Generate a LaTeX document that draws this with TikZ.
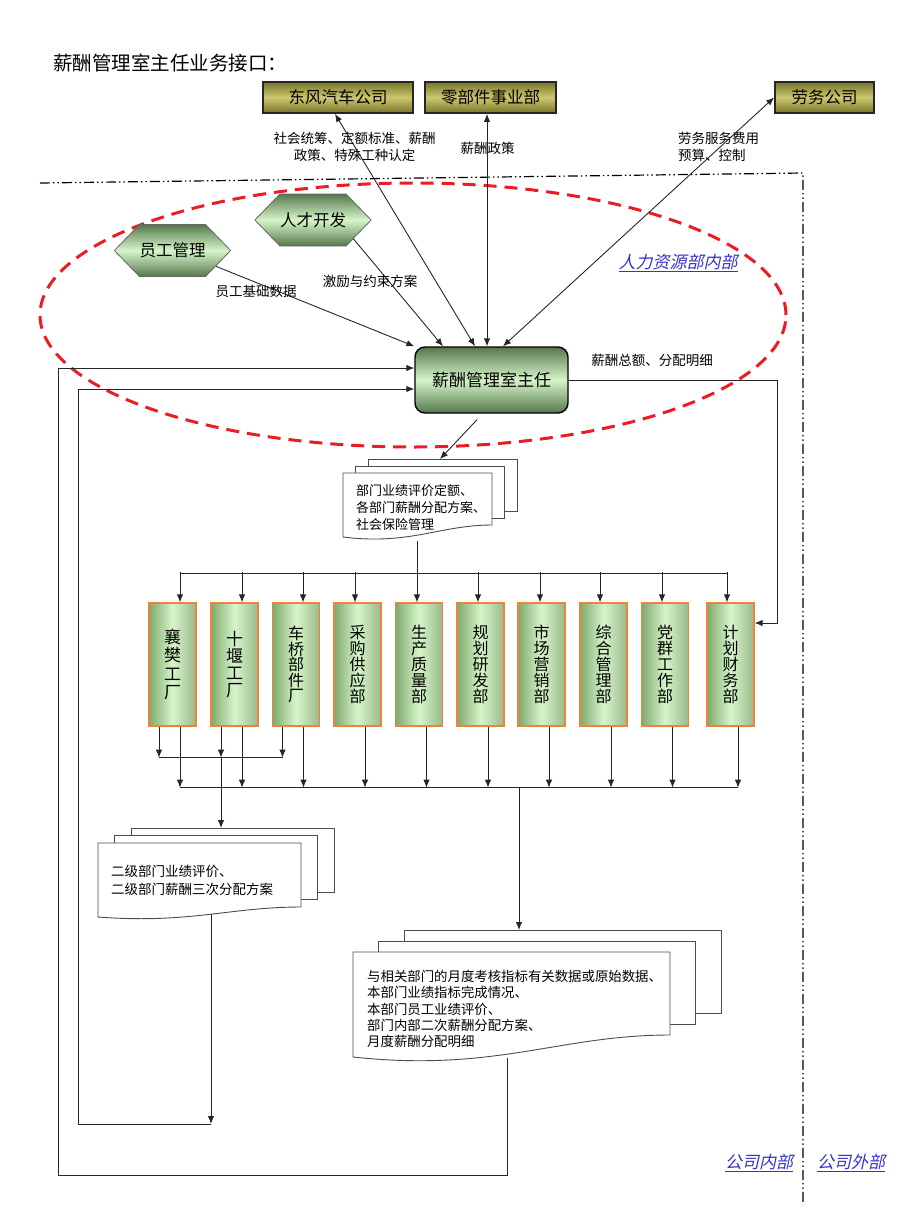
\documentclass[tikz,border=0pt]{standalone}
\usepackage{fontspec}
\setmainfont{Noto Sans CJK SC}
\newfontfamily\slantcjk{Noto Sans CJK SC}[FakeSlant=0.22]
\usetikzlibrary{arrows.meta, shapes.symbols, positioning}

\definecolor{olivedk}{RGB}{118,116,40}
\definecolor{olivelt}{RGB}{206,200,112}
\definecolor{greendk}{RGB}{86,118,76}
\definecolor{greenlt}{RGB}{214,246,202}
\definecolor{colgreen}{RGB}{128,168,110}
\definecolor{colline}{RGB}{238,132,60}
\definecolor{linkblue}{RGB}{52,52,205}
\definecolor{hrred}{RGB}{236,28,36}

\newcommand{\fsz}[2]{\fontsize{#1}{#2}\selectfont}

% three pages, the front one with a wavy foot
\newcommand{\docpile}[7]{%
  \draw[pageline] ({#1+2*#5},{#2-2*#6}) rectangle ++(#3,#4);
  \draw[pageline] ({#1+#5},{#2-#6}) rectangle ++(#3,#4);
  \draw[pageline] (#1,#2) -- ++(#3,0) -- ++(0,#4)
    .. controls ({#1+0.65*#3},{#2+#4}) and ({#1+0.45*#3},{#2+#4+1.7*#7}) .. ({#1},{#2+#4+#7}) -- cycle;
}

\begin{document}
\begin{tikzpicture}[x=1pt, y=-1pt, >={Latex[length=8pt,width=6.5pt]},
  wire/.style={draw=black!85, line width=0.9pt},
  pageline/.style={draw=black!70, fill=white, line width=0.9pt},
  extbox/.style={draw=black!85, line width=1.8pt, top color=olivedk, bottom color=olivedk, middle color=olivelt, minimum height=31, inner sep=0pt, font=\fsz{16.5}{17}},
  hexbox/.style={signal, signal to=east and west, signal pointer angle=92, draw=black!60, line width=0.8pt, top color=greendk, bottom color=greendk, middle color=greenlt, minimum height=52, inner sep=0pt, font=\fsz{16.5}{17}},
  chiefbox/.style={draw=black, line width=1.4pt, rounded corners=10pt, top color=greendk, bottom color=greendk, middle color=greenlt, minimum width=153, minimum height=66, inner sep=0pt, font=\fsz{17}{17}},
  deptbar/.style={draw=colline, line width=1.3pt, left color=colgreen, right color=colgreen!80!white, middle color=greenlt, minimum width=47, minimum height=123, inner sep=0pt, align=center},
  note/.style={font=\fsz{13.5}{16.5}, inner sep=0pt, align=center},
  link/.style={font=\slantcjk\fsz{17}{17}, text=linkblue, inner sep=0pt},
  sideline/.style={line width=1.2pt, dash pattern=on 10pt off 3pt on 1.5pt off 3pt on 1.5pt off 3pt},
  hrring/.style={draw=hrred, line width=3pt, dash pattern=on 13pt off 8pt}]
\useasboundingbox (0,0) rectangle (920,1227);

\node[anchor=west, inner sep=0pt, font=\fsz{19.5}{20}] (title) at (53,63) {薪酬管理室主任业务接口：};

\node[extbox, minimum width=150] (dfqc) at (338,97.5) {东风汽车公司};
\node[extbox, minimum width=131] (lbjb) at (490.5,97.5) {零部件事业部};
\node[extbox, minimum width=99] (lwgs) at (824.5,97.5) {劳务公司};

\draw[sideline] (40,183) -- (803,173) -- (803,1205);
\draw[hrring] (413,315) ellipse [x radius=373pt, y radius=132pt];

\node[hexbox, minimum width=114] (rcfz) at (313,220) {人才开发};
\node[hexbox, minimum width=107] (ygql) at (172.5,250.5) {员工管理};
\node[chiefbox] (xczr) at (491.5,380) {薪酬管理室主任};

\draw[wire, ->] (ygql.-20) -- (xczr.north west);
\draw[wire, ->] (rcfz.-25) -- ([xshift=-48.5]xczr.north);
\draw[wire, <->] ([xshift=-3]dfqc.south) -- ([xshift=-16.5]xczr.north);
\draw[wire, <->] ([xshift=-3.5]lbjb.south) -- ([xshift=-4.5]xczr.north);
\draw[wire, <->] (lwgs.west) -- ([xshift=11.5]xczr.north);

\node[note] (lbsh) at (354.5,147) {社会统筹、定额标准、薪酬\\政策、特殊工种认定};
\node[note] (lbxc) at (487.5,148) {薪酬政策};
\node[note, align=left, anchor=west] (lblw) at (678,147) {劳务服务费用\\预算、控制};
\node[note] (lbyg) at (256,291) {员工基础数据};
\node[note] (lbjl) at (370,281) {激励与约束方案};
\node[link] (lbhr) at (678,263) {\underline{人力资源部内部}};
\node[note] (lbze) at (652,360) {薪酬总额、分配明细};

% pages
\docpile{343}{473}{149}{52}{12.5}{7}{12}
\docpile{98}{843}{203}{64}{16.5}{7.5}{10}
\docpile{353}{952}{317}{83}{25.5}{11}{22}
\node[anchor=north west, inner sep=0pt, align=left, font=\fsz{13}{17}] (d1) at (356,484) {部门业绩评价定额、\\各部门薪酬分配方案、\\社会保险管理};
\node[anchor=north west, inner sep=0pt, align=left, font=\fsz{13.5}{18}] (d2) at (111,865) {二级部门业绩评价、\\二级部门薪酬三次分配方案};
\node[anchor=north west, inner sep=0pt, align=left, font=\fsz{13.4}{16.3}] (d3) at (367,970) {与相关部门的月度考核指标有关数据或原始数据、\\本部门业绩指标完成情况、\\本部门员工业绩评价、\\部门内部二次薪酬分配方案、\\月度薪酬分配明细};
\coordinate (d1top) at (440,459);
\coordinate (d1bot) at (417,541);
\coordinate (d2top) at (221,828);
\coordinate (d2bot) at (211,914);
\coordinate (d2turn) at (211,1124);
\coordinate (d3top) at (519,930);
\coordinate (d3bot) at (507,1058);
\coordinate (fin) at (777,623);

\foreach \n/\t/\x/\f/\s in {c1/{襄\\樊\\工\\厂}/172.5/17/18.5, c2/{十\\堰\\工\\厂}/234.5/17/17, c3/{车\\桥\\部\\件\\厂}/296/16/15.5, c4/{采\\购\\供\\应\\部}/357.5/16/16, c5/{生\\产\\质\\量\\部}/419/16/16, c6/{规\\划\\研\\发\\部}/480.5/16/16, c7/{市\\场\\营\\销\\部}/541.5/16/16, c8/{综\\合\\管\\理\\部}/603.5/16/16, c9/{党\\群\\工\\作\\部}/665/16/16, c10/{计\\划\\财\\务\\部}/730.5/16/16}
  \node[deptbar, font=\fsz{\f}{\s}] (\n) at (\x,664.5) {\t};

\draw[wire, ->] ([xshift=-14.5, yshift=-6]xczr.south) -- (d1top);
\draw[wire] (d1bot) -- (417,573);
\draw[wire] (180,573) -- (727,573);
\foreach \n/\o in {c1/7.5, c2/7.5, c3/7, c4/-2.5, c5/-2, c6/-2.5, c7/-1.5, c8/-3.5, c9/-3, c10/-3.5}
  \draw[wire, ->] ([xshift=\o]\n.north) ++(0,-30) -- ([xshift=\o]\n.north);
\foreach \n in {c1,c2,c3,c4,c5,c6,c7,c8,c9,c10}
  \draw[wire, ->] ([xshift=7.5]\n.south) -- ++(0,61);
\draw[wire] (180,787) -- (738,787);
\foreach \n in {c1,c2,c3}
  \draw[wire, ->] ([xshift=-13.5]\n.south) -- ++(0,31);
\draw[wire] (159,757) -- (283,757);
\draw[wire, ->] (221,757) -- (d2top);
\draw[wire, ->] (519,787) -- (d3top);
\draw[wire, ->] (xczr.east) -| (fin) -- (c10.east |- fin);

\draw[wire, ->] (d2bot) -- (d2turn);
\draw[wire, ->] (d2turn) -| (78,389) -- ([yshift=-9]xczr.west);
\draw[wire, ->] (d3bot) |- (58,1175) |- ([yshift=12]xczr.west);

\node[link] (lbin) at (759,1163) {\underline{公司内部}};
\node[link] (lbout) at (851,1163) {\underline{公司外部}};
\end{tikzpicture}
\end{document}
